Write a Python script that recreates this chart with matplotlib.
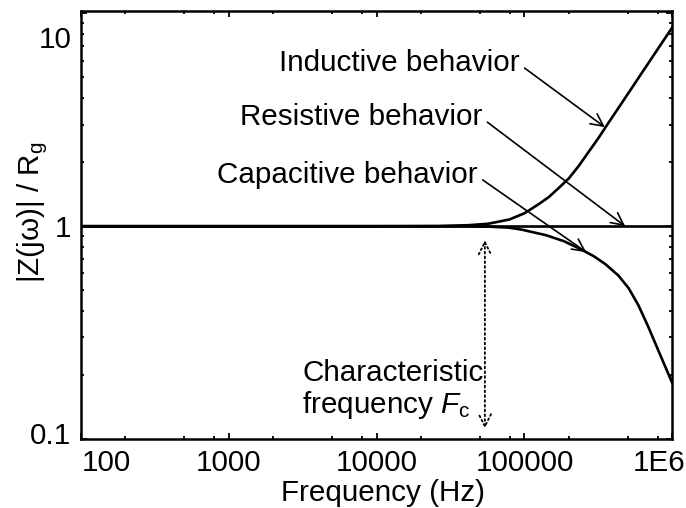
import matplotlib
matplotlib.use("Agg")
import matplotlib.pyplot as plt
import matplotlib.transforms as mtransforms
from matplotlib.ticker import LogLocator, NullFormatter, FixedLocator

plt.rcParams['font.family'] = ['Liberation Sans', 'DejaVu Sans']
plt.rcParams['mathtext.fontset'] = 'custom'
plt.rcParams['mathtext.rm'] = 'Liberation Sans'
plt.rcParams['mathtext.it'] = 'Liberation Sans:italic'

# normalised impedance |Z|/Rg versus frequency (Hz)
freq_res = [100, 1000000]
resistive = [1.0, 1.0]

freq_ind = [100, 10000, 26000, 42000, 57000, 79000, 100000, 125000, 146000,
            172000, 200000, 233000, 270000, 317000, 370000, 470000, 590000,
            740000, 1000000]
inductive = [1.0, 1.0, 1.002, 1.011, 1.027, 1.075, 1.15, 1.27, 1.37,
             1.52, 1.68, 1.92, 2.22, 2.6, 3.06, 3.92, 4.97, 6.29, 8.6]

freq_cap = [100, 10000, 40000, 57700, 79000, 96000, 140000, 185000, 233000,
            294000, 354000, 433000, 506000, 590000, 690000, 800000, 1000000]
capacitive = [1.0, 1.0, 0.999, 0.995, 0.984, 0.963, 0.907, 0.85, 0.788,
              0.723, 0.662, 0.585, 0.512, 0.425, 0.335, 0.263, 0.183]

xticks = [100, 1000, 10000, 100000, 1000000]
xticklabels = ['100', '1000', '10000', '100000', '1E6']
yticks = [0.1, 1, 10]
yticklabels = ['0.1', '1', '10']
f_char = 54000

fs = 21.3

fig = plt.figure(figsize=(6.86, 5.08), dpi=100)
ax = fig.add_axes([0.118, 0.136, 0.862, 0.842])

ax.plot(freq_res, resistive, color='black', lw=1.9)
ax.plot(freq_ind, inductive, color='black', lw=1.9)
ax.plot(freq_cap, capacitive, color='black', lw=1.9)

ax.set_xscale('log')
ax.set_yscale('log')
ax.set_xlim(100, 1e6)
ax.set_ylim(0.1, 10.25)

ax.xaxis.set_major_locator(FixedLocator(xticks))
ax.set_xticklabels(xticklabels)
ax.xaxis.set_minor_locator(LogLocator(base=10, subs=[2, 5, 8]))
ax.xaxis.set_minor_formatter(NullFormatter())
ax.yaxis.set_major_locator(FixedLocator(yticks))
ax.set_yticklabels(yticklabels)
ax.yaxis.set_minor_locator(LogLocator(base=10, subs=range(2, 10)))
ax.yaxis.set_minor_formatter(NullFormatter())

ax.tick_params(which='both', direction='in', top=True, right=True, labelsize=fs,
               width=1.3, pad=7)
ax.tick_params(which='major', length=4)
ax.tick_params(which='minor', length=2.5)
for sp in ax.spines.values():
    sp.set_linewidth(1.8)

ax.set_xlabel('Frequency (Hz)', fontsize=fs)
ax.set_ylabel('|Z(jω)| / R$_\\mathrm{g}$', fontsize=fs)
ax.xaxis.set_label_coords(0.51, -0.093)
ax.yaxis.set_label_coords(-0.052, 0.53)

# labels with arrows pointing at each curve (text placed in figure pixels)
arrow = dict(arrowstyle='->', color='black', lw=1.2, mutation_scale=22,
             shrinkA=2, shrinkB=0, relpos=(1.0, 0.45))
ax.annotate('Inductive behavior', xy=(350000, 2.92), xycoords='data',
            xytext=(279, 508 - 63), textcoords='figure pixels',
            fontsize=fs, ha='left', va='center', arrowprops=arrow)
ax.annotate('Resistive behavior', xy=(480000, 1.0), xycoords='data',
            xytext=(240, 508 - 117), textcoords='figure pixels',
            fontsize=fs, ha='left', va='center', arrowprops=arrow)
ax.annotate('Capacitive behavior', xy=(262000, 0.755), xycoords='data',
            xytext=(217, 508 - 175), textcoords='figure pixels',
            fontsize=fs, ha='left', va='center', arrowprops=arrow)

# characteristic frequency marker
ax.annotate('', xy=(f_char, 0.112), xytext=(f_char, 0.86),
            arrowprops=dict(arrowstyle='<->', color='black', lw=1.3, ls=':',
                            mutation_scale=22, shrinkA=0, shrinkB=0))
ax.annotate('Characteristic\nfrequency $\\mathit{F}_\\mathrm{c}$',
            xy=(302, 508 - 390), xycoords='figure pixels',
            fontsize=fs, ha='left', va='center', multialignment='left',
            linespacing=1.08)

# pull the end labels inside the frame
def shift(label, dx, dy):
    label.set_transform(label.get_transform() +
                        mtransforms.ScaledTranslation(dx / 100, dy / 100, fig.dpi_scale_trans))

xl = ax.get_xticklabels()
shift(xl[0], 25, 0)
shift(xl[-1], -13, 0)
yl = ax.get_yticklabels()
shift(yl[0], 0, 6)
shift(yl[-1], 0, -24)

fig.savefig('out.png', dpi=100)
